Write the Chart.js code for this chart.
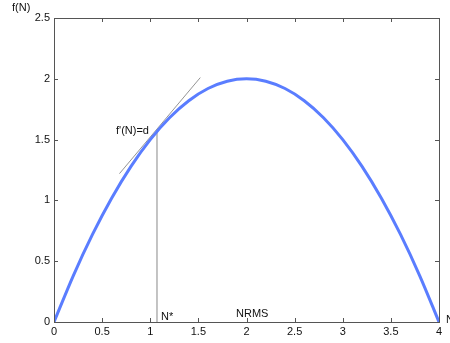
<!DOCTYPE html>
<html>
<head>
<meta charset="utf-8">
<script src="https://cdn.jsdelivr.net/npm/chart.js@4"></script>
<style>
  html, body { margin: 0; padding: 0; background: #fff; }
  #wrap { width: 450px; height: 343px; }
</style>
</head>
<body>
<div id="wrap"><canvas id="c" width="450" height="343"></canvas></div>
<script>
// curve f(N)
const nValues = [0, 0.2, 0.4, 0.6, 0.8, 1.0, 1.2, 1.4, 1.6, 1.8, 2.0, 2.2, 2.4, 2.6, 2.8, 3.0, 3.2, 3.4, 3.6, 3.8, 4.0];
const fValues = [0, 0.38, 0.72, 1.02, 1.28, 1.5, 1.68, 1.82, 1.92, 1.98, 2.0, 1.98, 1.92, 1.82, 1.68, 1.5, 1.28, 1.02, 0.72, 0.38, 0];
// tangent at N*
const tangentN = [0.68, 1.52];
const tangentF = [1.22, 2.01];
// vertical marker at N*
const markerN = [1.07, 1.07];
const markerF = [0, 1.57];
const xTicks = [0, 0.5, 1, 1.5, 2, 2.5, 3, 3.5, 4];
const yTicks = [0, 0.5, 1, 1.5, 2, 2.5];

const FONT = "11px 'Liberation Sans', Arial, sans-serif";
const pts = (xs, ys) => xs.map((x, i) => ({ x, y: ys[i] }));

// box, inward ticks and text labels
const decor = {
  id: 'decor',
  afterDraw(chart) {
    const { ctx, chartArea: a, scales: { x, y } } = chart;
    ctx.save();
    ctx.strokeStyle = '#555';
    ctx.lineWidth = 1;
    ctx.strokeRect(a.left + 0.5, a.top + 0.5, a.right - a.left, a.bottom - a.top);
    ctx.beginPath();
    xTicks.forEach(v => {
      const px = Math.round(x.getPixelForValue(v)) + 0.5;
      ctx.moveTo(px, a.bottom); ctx.lineTo(px, a.bottom - 4);
      ctx.moveTo(px, a.top); ctx.lineTo(px, a.top + 4);
    });
    yTicks.forEach(v => {
      const py = Math.round(y.getPixelForValue(v)) + 0.5;
      ctx.moveTo(a.left, py); ctx.lineTo(a.left + 4, py);
      ctx.moveTo(a.right, py); ctx.lineTo(a.right - 4, py);
    });
    ctx.stroke();

    ctx.fillStyle = '#111';
    ctx.font = FONT;
    ctx.textBaseline = 'middle';
    ctx.textAlign = 'left';
    ctx.fillText('f(N)', 12, 8);
    ctx.fillText('N', a.right + 7, a.bottom - 2);
    ctx.fillText("f'(N)=d", 116, 131);
    ctx.fillText('N*', 161, a.bottom - 5);
    ctx.fillText('NRMS', 236, a.bottom - 8);
    ctx.restore();
  }
};

const tickFont = { family: "'Liberation Sans', Arial, sans-serif", size: 11 };

new Chart(document.getElementById('c'), {
  type: 'scatter',
  data: {
    datasets: [
      { data: pts(nValues, fValues), showLine: true, borderColor: 'rgb(90,125,255)', borderWidth: 3,
        pointRadius: 0, cubicInterpolationMode: 'monotone', order: 1 },
      { data: pts(tangentN, tangentF), showLine: true, borderColor: '#666', borderWidth: 0.7,
        pointRadius: 0, order: 2 },
      { data: pts(markerN, markerF), showLine: true, borderColor: '#888', borderWidth: 1,
        pointRadius: 0, order: 2 }
    ]
  },
  plugins: [decor],
  options: {
    responsive: false,
    animation: false,
    devicePixelRatio: 1,
    layout: { padding: { left: 0, top: 18, right: 11, bottom: 0 } },
    plugins: { legend: { display: false }, tooltip: { enabled: false } },
    scales: {
      x: {
        type: 'linear', min: 0, max: 4,
        afterFit(s) { s.height = 21; },
        afterBuildTicks(s) { s.ticks = xTicks.map(v => ({ value: v })); },
        grid: { display: false, drawTicks: false },
        border: { display: false },
        ticks: { color: '#111', font: tickFont, padding: 3, maxRotation: 0, callback: v => String(v) }
      },
      y: {
        type: 'linear', min: 0, max: 2.5,
        afterFit(s) { s.width = 54; },
        afterBuildTicks(s) { s.ticks = yTicks.map(v => ({ value: v })); },
        grid: { display: false, drawTicks: false },
        border: { display: false },
        ticks: { color: '#111', font: tickFont, padding: 4, callback: v => String(v) }
      }
    }
  }
});
</script>
</body>
</html>
